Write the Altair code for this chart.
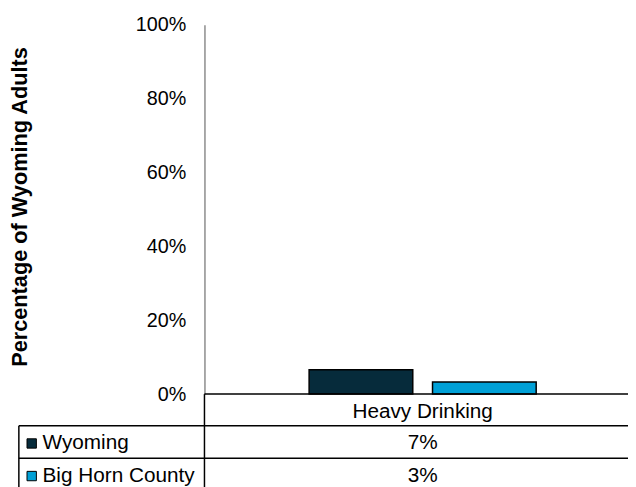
import altair as alt
import pandas as pd

# ---- data ----
categories = ["Heavy Drinking"]
series = ["Wyoming", "Big Horn County"]
values = [0.066, 0.033]
colors = ["#062b3b", "#00a0d6"]
y_ticks = [0, 0.2, 0.4, 0.6, 0.8, 1.0]

df = pd.DataFrame({"category": [categories[0]] * len(series),
                   "series": series, "value": values})
hdr = pd.DataFrame({"category": categories})

FONT = "Liberation Sans"
PL = 199
W, H = 628 - PL, 374
LX = 196 - PL  # shift for the table's left column

x_enc = alt.X("category:N",
              scale=alt.Scale(domain=categories, paddingInner=0,
                              paddingOuter=(W / 230 - 1) / 2, align=106 / (W - 230)),
              axis=None)
color_enc = alt.Color("series:N", scale=alt.Scale(domain=series, range=colors),
                      legend=None)
row_y = alt.Y("series:N",
              scale=alt.Scale(type="point", domain=series, range=[424, 457], padding=0),
              axis=None)

bars = alt.Chart(df).mark_bar(stroke="black", strokeWidth=1.5).encode(
    x=x_enc,
    xOffset=alt.XOffset("series:N",
                        scale=alt.Scale(domain=series, paddingInner=0.16, paddingOuter=0)),
    y=alt.Y("value:Q",
            scale=alt.Scale(domain=[0, 1], nice=False),
            axis=alt.Axis(values=y_ticks, format=".0%", ticks=False, grid=False,
                          labelFont=FONT, labelFontSize=20, labelColor="#000000",
                          labelPadding=19, domainColor="#8c8c8c", domainWidth=1.5,
                          title="Percentage of Wyoming Adults",
                          titleFont=FONT, titleFontSize=22, titleFontWeight="bold",
                          titleColor="#000000", titleX=-184 + LX, titleY=184,
                          titleAngle=270, titleAlign="center", titleBaseline="middle")),
    color=color_enc,
)


def rule(x1, x2, y1, y2, color="black", w=1.5):
    return alt.Chart(hdr).mark_rule(color=color, strokeWidth=w).encode(
        x=alt.value(x1), x2=alt.value(x2), y=alt.value(y1), y2=alt.value(y2))


rules = [
    rule(0, 460, H, H),
    rule(-185 + LX, 460, 406, 406),
    rule(-185 + LX, 460, 439, 439),
    rule(0, 0, H, 480),
    rule(-185 + LX, -185 + LX, 406, 480),
]

header_text = alt.Chart(hdr).mark_text(font=FONT, fontSize=21, color="black",
                                       baseline="middle").encode(
    x=x_enc, y=alt.value(392), text="category:N")

value_text = alt.Chart(df).mark_text(font=FONT, fontSize=21, color="black",
                                     baseline="middle").encode(
    x=x_enc, y=row_y, text=alt.Text("value:Q", format=".0%"))

row_labels = alt.Chart(df).mark_text(font=FONT, fontSize=21, color="black",
                                     align="left", baseline="middle").encode(
    x=alt.value(-161 + LX), y=row_y, text="series:N")

markers = alt.Chart(df).mark_square(size=90, opacity=1, filled=True,
                                    stroke="black", strokeWidth=1).encode(
    x=alt.value(-172 + LX), y=row_y, color=color_enc)

chart = alt.layer(bars, *rules, header_text, value_text, row_labels, markers).resolve_scale(
    y="independent"
).properties(
    width=W, height=H,
    padding={"left": PL, "top": 14, "right": 0, "bottom": 91},
    autosize=alt.AutoSizeParams(type="none"),
).configure_view(stroke=None)

chart.save("out.html", embed_options={"renderer": "svg", "actions": False})
